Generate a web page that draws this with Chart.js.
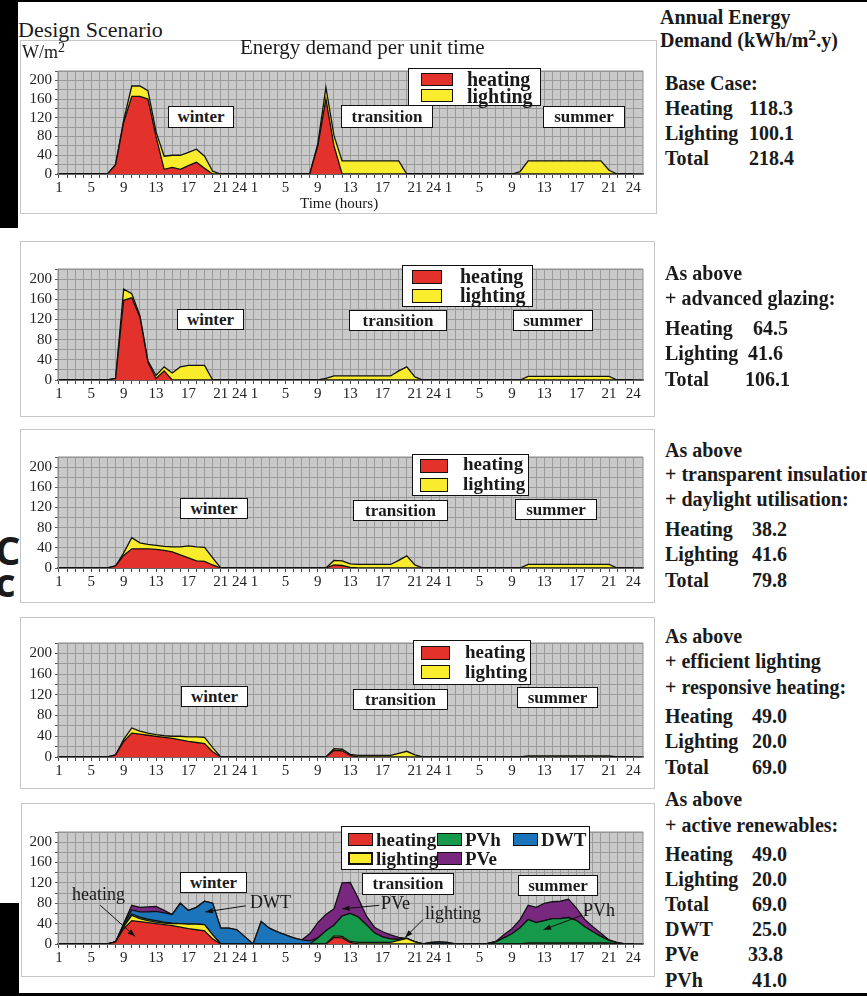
<!DOCTYPE html>
<html lang="en">
<head>
<meta charset="UTF-8" />
<meta name="viewport" content="width=device-width, initial-scale=1.0"/>
<title>Design Scenario - Energy demand per unit time</title>
<script src="https://cdn.jsdelivr.net/npm/chart.js"></script>
<style>
  body { margin: 0; width: 867px; height: 996px; position: relative; overflow: hidden; background: #fff;
         font-family: 'Liberation Serif', 'Times New Roman', serif; color: #1a1a1a; }
  .t { position: absolute; white-space: nowrap; }
  .b { font-weight: bold; }
  sup { font-size: 0.78em; vertical-align: 0.42em; line-height: 0; }
  .panel { position: absolute; background: #fff; border: 1.5px solid #c6c6c6; box-sizing: border-box; z-index: 1; }
  .season { position: absolute; background: #fff; border: 1.5px solid #111; box-sizing: border-box; font-weight: bold;
            font-size: 17px; display: flex; align-items: center; justify-content: center; z-index: 3; }
  .legend { position: absolute; background: #fff; border: 1.5px solid #111; box-sizing: border-box; z-index: 3; }
  .sw { position: absolute; border: 1.5px solid #111; box-sizing: border-box; z-index: 4; }
  .wrap { position: absolute; left: 0; width: 660px; z-index: 2; }
  .blk { position: absolute; background: #000; z-index: 6; }
  .frag { position: absolute; font-family: 'Open Sans', sans-serif; font-weight: bold; font-size: 40px; line-height: 40px; z-index: 0; }
</style>
</head>
<body>
  <div class="frag" style="left:-5px;top:530px">C</div>
  <div class="frag" style="left:-5px;top:562px">c</div>
  <div class="blk" style="left:0;top:0;width:867px;height:2px"></div>
  <div class="blk" style="left:0;top:0;width:18px;height:228px"></div>
  <div class="blk" style="left:0;top:903px;width:19px;height:93px"></div>
  <div class="blk" style="left:0;top:993px;width:867px;height:3px"></div>

  <script>
    // x axis: hour index over three days (winter, transition, summer)
    const hourIndex = Array.from({ length: 72 }, (_, i) => i + 1);
    const labelledHours = [1, 5, 9, 13, 17, 21, 24];
    const yGrid = [0, 20, 40, 60, 80, 100, 120, 140, 160, 180, 200, 220];

    // W/m2 per hour, 24 values per day: winter | transition | summer
    const p1Heating = [
      0,0,0,0,0,0,0,20,110,166,166,160,80,10,14,10,18,25,12,0,0,0,0,0,
      0,0,0,0,0,0,0,0,60,160,60,0,0,0,0,0,0,0,0,0,0,0,0,0,
      0,0,0,0,0,0,0,0,0,0,0,0,0,0,0,0,0,0,0,0,0,0,0,0
    ];
    const p1Lighting = [
      0,0,0,0,0,0,0,0,5,22,22,18,10,28,26,30,28,28,26,6,0,0,0,0,
      0,0,0,0,0,0,0,0,5,25,22,28,28,28,28,28,28,28,28,0,0,0,0,0,
      0,0,0,0,0,0,0,0,0,5,28,28,28,28,28,28,28,28,28,28,8,0,0,0
    ];
    const p2Heating = [
      0,0,0,0,0,0,0,3,158,163,125,35,3,18,0,0,0,0,0,0,0,0,0,0,
      0,0,0,0,0,0,0,0,0,0,0,0,0,0,0,0,0,0,0,0,0,0,0,0,
      0,0,0,0,0,0,0,0,0,0,0,0,0,0,0,0,0,0,0,0,0,0,0,0
    ];
    const p2Lighting = [
      0,0,0,0,0,0,0,0,22,8,3,3,6,8,14,26,29,29,29,0,0,0,0,0,
      0,0,0,0,0,0,0,0,0,3,8,8,8,8,8,8,8,8,18,26,6,0,0,0,
      0,0,0,0,0,0,0,0,0,0,7,7,7,7,7,7,7,7,7,7,7,0,0,0
    ];
    const p3Heating = [
      0,0,0,0,0,0,0,4,25,38,38,38,37,35,32,26,20,14,13,6,0,0,0,0,
      0,0,0,0,0,0,0,0,0,0,6,5,1,0,0,0,0,0,0,0,0,0,0,0,
      0,0,0,0,0,0,0,0,0,0,0,0,0,0,0,0,0,0,0,0,0,0,0,0
    ];
    const p3Lighting = [
      0,0,0,0,0,0,0,0,5,22,12,9,8,8,10,16,24,28,28,14,0,0,0,0,
      0,0,0,0,0,0,0,0,0,0,9,9,7,7,7,7,7,7,15,24,6,0,0,0,
      0,0,0,0,0,0,0,0,0,0,7,7,7,7,7,7,7,7,7,7,7,0,0,0
    ];
    const p4Heating = [
      0,0,0,0,0,0,0,4,30,46,44,42,40,38,36,33,30,28,26,10,0,0,0,0,
      0,0,0,0,0,0,0,0,0,0,13,12,3,0,0,0,0,0,0,0,0,0,0,0,
      0,0,0,0,0,0,0,0,0,0,0,0,0,0,0,0,0,0,0,0,0,0,0,0
    ];
    const p4Lighting = [
      0,0,0,0,0,0,0,0,4,10,6,4,3,3,4,7,9,11,12,8,0,0,0,0,
      0,0,0,0,0,0,0,0,0,0,3,3,2,3,3,3,3,3,7,11,4,0,0,0,
      0,0,0,0,0,0,0,0,0,0,2,2,2,2,2,2,2,2,2,2,2,0,0,0
    ];
    // last scenario keeps heating and lighting of the one above
    const p5Heating = p4Heating;
    const p5Lighting = p4Lighting;
    const p5PVh = [
      0,0,0,0,0,0,0,0,1,3,3,3,3,2,1,0,0,0,0,0,0,0,0,0,
      0,0,0,0,0,0,0,0,12,26,21,40,55,50,35,19,11,7,2,0,0,0,0,0,
      0,0,0,0,0,1,4,12,20,32,46,40,44,48,48,50,44,32,22,13,5,2,0,0
    ];
    const p5DWT = [
      0,0,0,0,0,0,0,0,3,8,10,14,18,18,17,40,27,33,46,62,31,31,28,14,
      0,44,31,24,18,12,8,6,0,0,0,0,0,0,0,0,0,0,0,0,0,0,3,4,
      3,0,0,0,0,0,0,0,0,0,0,0,0,0,0,0,0,0,0,0,0,0,0,0
    ];
    const p5PVe = [
      0,0,0,0,0,0,0,0,2,9,9,10,10,5,0,0,0,0,0,0,0,0,0,0,
      0,0,0,0,0,0,0,14,30,32,32,65,61,37,17,11,10,8,4,0,0,0,0,0,
      0,0,0,0,0,0,1,6,10,16,28,30,34,33,34,36,24,14,10,6,1,1,0,0
    ];

    const colors = { heating: '#e3322c', lighting: '#f8ec2c', PVh: '#16994a', DWT: '#1c74ba', PVe: '#79287f' };

    // helpers for the page furniture
    function add(cls, css, html) {
      const d = document.createElement('div');
      d.className = cls;
      d.style.cssText = css;
      if (html) d.innerHTML = html;
      document.body.appendChild(d);
      return d;
    }
    function txt(str, x, cy, size, bold, z) {
      add('t' + (bold ? ' b' : ''),
        `left:${x}px;top:${cy - size * 0.6}px;font-size:${size}px;line-height:${size * 1.2}px;z-index:${z || 5}`, str);
    }
    function season(name, x, y, w, h) {
      add('season', `left:${x}px;top:${y}px;width:${w}px;height:${h}px`, name);
    }

    function xLabel(v) {
      const day = Math.floor((v - 1) / 24), h = (v - 1) % 24 + 1;
      if (h === 24 && day < 2) return '24 1';
      if (h === 1 && day > 0) return '';
      return labelledHours.includes(h) ? String(h) : '';
    }

    const plotBg = {
      id: 'plotBg',
      beforeDraw(chart) {
        const { ctx, chartArea: a } = chart;
        ctx.save();
        ctx.fillStyle = '#c9c9c9';
        ctx.fillRect(a.left, a.top, a.right - a.left, a.bottom - a.top);
        ctx.restore();
      },
      afterDraw(chart) {
        const { ctx, chartArea: a } = chart;
        ctx.save();
        ctx.strokeStyle = '#8d8d8d';
        ctx.lineWidth = 1;
        ctx.beginPath();
        ctx.moveTo(a.left, a.bottom); ctx.lineTo(a.left, a.top);
        ctx.lineTo(a.right, a.top); ctx.lineTo(a.right, a.bottom);
        ctx.stroke();
        ctx.restore();
      }
    };

    const arrows = {
      id: 'arrows',
      afterDatasetsDraw(chart, args, opts) {
        const { ctx, scales: { x, y } } = chart;
        (opts.items || []).forEach(a => {
          const x1 = x.getPixelForValue(a.from[0]), y1 = y.getPixelForValue(a.from[1]);
          const x2 = x.getPixelForValue(a.to[0]), y2 = y.getPixelForValue(a.to[1]);
          const ang = Math.atan2(y2 - y1, x2 - x1);
          ctx.save();
          ctx.strokeStyle = '#111';
          ctx.fillStyle = '#111';
          ctx.lineWidth = 1;
          ctx.beginPath(); ctx.moveTo(x1, y1); ctx.lineTo(x2, y2); ctx.stroke();
          ctx.beginPath();
          ctx.moveTo(x2, y2);
          ctx.lineTo(x2 - 8 * Math.cos(ang - 0.35), y2 - 8 * Math.sin(ang - 0.35));
          ctx.lineTo(x2 - 8 * Math.cos(ang + 0.35), y2 - 8 * Math.sin(ang + 0.35));
          ctx.closePath(); ctx.fill();
          ctx.restore();
        });
      }
    };

    function series(label, values, first) {
      return {
        label,
        data: values.map((v, i) => ({ x: hourIndex[i], y: v })),
        backgroundColor: colors[label],
        borderColor: '#111',
        borderWidth: 1.3,
        pointRadius: 0,
        tension: 0,
        fill: first ? 'origin' : '-1'
      };
    }

    function makeChart(areaTop, areaBottom, datasets, arrowItems) {
      const wrap = add('wrap', `top:${areaTop - 6}px;height:${areaBottom - areaTop + 36}px`);
      const cv = document.createElement('canvas');
      wrap.appendChild(cv);
      Chart.defaults.font.family = "'Liberation Serif', 'Times New Roman', serif";
      Chart.defaults.font.size = 15;
      Chart.defaults.color = '#222';
      return new Chart(cv.getContext('2d'), {
        type: 'line',
        data: { datasets },
        plugins: [plotBg, arrows],
        options: {
          responsive: true,
          maintainAspectRatio: false,
          animation: false,
          layout: { padding: { top: 6, right: 17, left: 0, bottom: 0 } },
          plugins: { legend: { display: false }, tooltip: { enabled: false }, arrows: { items: arrowItems || [] } },
          scales: {
            x: {
              type: 'linear', min: 0.88, max: 73.2,
              afterFit: s => { s.height = 30; },
              afterBuildTicks: s => { s.ticks = hourIndex.map(v => ({ value: v })); },
              grid: { color: '#9b9b9b', lineWidth: 1, tickLength: 4, tickColor: '#444' },
              border: { color: '#333', width: 1.5 },
              ticks: { autoSkip: false, maxRotation: 0, padding: 1, callback: v => xLabel(v) }
            },
            y: {
              stacked: true, min: 0, max: 220,
              afterFit: s => { s.width = 58; },
              afterBuildTicks: s => { s.ticks = yGrid.map(v => ({ value: v })); },
              grid: { color: '#9b9b9b', lineWidth: 1, tickLength: 3, tickColor: '#555' },
              border: { color: '#888', width: 1 },
              ticks: { autoSkip: false, padding: 3, callback: v => (v % 40 === 0 && v <= 200) ? String(v) : '' }
            }
          }
        }
      });
    }

    function legend2(x, y, w, h, sw, size, rows) {
      add('legend', `left:${x}px;top:${y}px;width:${w}px;height:${h}px`);
      rows.forEach(r => {
        add('sw', `left:${r.sx}px;top:${r.sy}px;width:${sw[0]}px;height:${sw[1]}px;background:${colors[r.name]};` +
          (r.thick ? 'border-width:2.5px;' : ''));
        txt(r.name, r.tx, r.ty, size, true);
      });
    }

    // panel frames
    [[20, 40, 637, 174], [20, 241, 635, 176], [20, 429, 635, 174], [20, 617, 635, 172], [21, 803, 634, 174]]
      .forEach(([x, y, w, h]) => add('panel', `left:${x}px;top:${y}px;width:${w}px;height:${h}px`));

    // panel 1: base case
    makeChart(65, 174, [series('heating', p1Heating, true), series('lighting', p1Lighting)]);
    txt('Design Scenario', 18, 30, 22, false);
    txt('Energy demand per unit time', 240, 48, 21, false);
    txt('W/m<sup>2</sup>', 22, 53, 18, false);
    txt('Time (hours)', 300, 203, 15, false);
    legend2(408, 68, 133, 38, [32, 13], 20, [
      { name: 'heating', sx: 421, sy: 73, tx: 467, ty: 79 },
      { name: 'lighting', sx: 421, sy: 89, tx: 467, ty: 96 }
    ]);
    season('winter', 168, 106, 66, 22);
    season('transition', 341, 105, 92, 23);
    season('summer', 543, 106, 82, 22);

    // panel 2: advanced glazing
    makeChart(263, 380, [series('heating', p2Heating, true), series('lighting', p2Lighting)]);
    legend2(402, 265, 131, 42, [30, 14], 20, [
      { name: 'heating', sx: 412, sy: 270, tx: 460, ty: 276 },
      { name: 'lighting', sx: 412, sy: 289, tx: 460, ty: 295 }
    ]);
    season('winter', 177, 309, 67, 21);
    season('transition', 349, 310, 98, 21);
    season('summer', 513, 310, 80, 21);

    // panel 3: transparent insulation + daylight
    makeChart(451, 568, [series('heating', p3Heating, true), series('lighting', p3Lighting)]);
    legend2(412, 454, 117, 42, [28, 14], 19, [
      { name: 'heating', sx: 420, sy: 459, tx: 463, ty: 464 },
      { name: 'lighting', sx: 420, sy: 478, tx: 463, ty: 484 }
    ]);
    season('winter', 180, 498, 68, 21);
    season('transition', 353, 500, 95, 21);
    season('summer', 515, 499, 82, 21);

    // panel 4: efficient lighting + responsive heating
    makeChart(637, 757, [series('heating', p4Heating, true), series('lighting', p4Lighting)]);
    legend2(413, 640, 118, 45, [29, 14], 19, [
      { name: 'heating', sx: 421, sy: 646, tx: 465, ty: 652 },
      { name: 'lighting', sx: 421, sy: 665, tx: 465, ty: 672 }
    ]);
    season('winter', 181, 686, 67, 21);
    season('transition', 353, 689, 95, 21);
    season('summer', 517, 687, 81, 21);

    // panel 5: active renewables
    makeChart(826, 944, [
      series('heating', p5Heating, true), series('lighting', p5Lighting),
      series('PVh', p5PVh), series('DWT', p5DWT), series('PVe', p5PVe)
    ], [
      { from: [6.1, 76], to: [10.4, 15] },
      { from: [24.1, 75], to: [19.1, 63] },
      { from: [40.6, 76], to: [36.0, 69] },
      { from: [46.0, 48], to: [43.8, 13] },
      { from: [65.6, 56], to: [60.9, 28] }
    ]);
    legend2(341, 826, 249, 44, [25, 13], 19, [
      { name: 'heating', sx: 348, sy: 833, tx: 376, ty: 840 },
      { name: 'PVh', sx: 437, sy: 833, tx: 465, ty: 840 },
      { name: 'DWT', sx: 513, sy: 833, tx: 541, ty: 840 },
      { name: 'lighting', sx: 348, sy: 852, tx: 376, ty: 859, thick: true },
      { name: 'PVe', sx: 437, sy: 852, tx: 465, ty: 859 }
    ]);
    season('winter', 180, 872, 67, 21);
    season('transition', 362, 873, 92, 22);
    season('summer', 518, 875, 80, 21);
    txt('heating', 72, 895, 18, false);
    txt('DWT', 250, 903, 18, false);
    txt('PVe', 381, 904, 18, false);
    txt('lighting', 425, 914, 18, false);
    txt('PVh', 583, 911, 18, false);

    // annual energy demand column
    txt('Annual Energy', 660, 17, 20, true);
    txt('Demand (kWh/m<sup>2</sup>.y)', 660, 40, 20, true);
    const side = [
      ['Base Case:', 83], ['Heating', 108, '118.3', 749], ['Lighting', 133, '100.1', 749], ['Total', 158, '218.4', 749],
      ['As above', 273], ['+ advanced glazing:', 298], ['Heating', 328, '64.5', 753], ['Lighting', 353, '41.6', 748], ['Total', 379, '106.1', 745],
      ['As above', 450], ['+ transparent insulation', 474], ['+ daylight utilisation:', 499],
      ['Heating', 529, '38.2', 752], ['Lighting', 554, '41.6', 752], ['Total', 580, '79.8', 752],
      ['As above', 636], ['+ efficient lighting', 661], ['+ responsive heating:', 687],
      ['Heating', 716, '49.0', 752], ['Lighting', 741, '20.0', 752], ['Total', 767, '69.0', 752],
      ['As above', 799], ['+ active renewables:', 825],
      ['Heating', 854, '49.0', 752], ['Lighting', 879, '20.0', 752], ['Total', 904, '69.0', 752],
      ['DWT', 929, '25.0', 752], ['PVe', 954, '33.8', 748], ['PVh', 980, '41.0', 752]
    ];
    side.forEach(([label, y, val, vx]) => {
      txt(label, 665, y, 20, true);
      if (val) txt(val, vx, y, 20, true);
    });
  </script>
</body>
</html>
